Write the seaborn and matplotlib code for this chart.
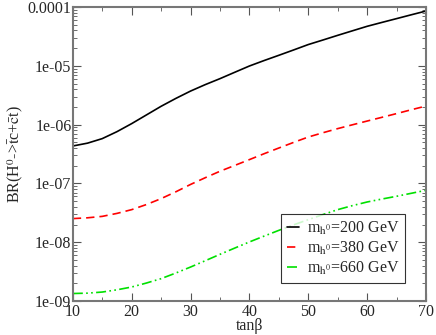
import numpy as np
import pandas as pd
import seaborn as sns
import matplotlib
matplotlib.use("Agg")
import matplotlib.pyplot as plt
from matplotlib.ticker import FixedLocator, LogLocator, NullFormatter, FuncFormatter

# tan(beta) grid and branching ratios
tanb = [10, 12.5, 15, 17.5, 20, 22.5, 25, 27.5, 30, 32.5, 35, 37.5, 40,
        42.5, 45, 47.5, 50, 52.5, 55, 57.5, 60, 62.5, 65, 67.5, 70]
br_200 = [4.33e-7, 4.84e-7, 5.78e-7, 7.59e-7, 1.04e-6, 1.46e-6, 2.05e-6,
          2.79e-6, 3.72e-6, 4.79e-6, 6.05e-6, 7.76e-6, 9.93e-6, 1.23e-5,
          1.51e-5, 1.86e-5, 2.30e-5, 2.75e-5, 3.30e-5, 3.94e-5, 4.70e-5,
          5.47e-5, 6.35e-5, 7.38e-5, 8.55e-5]
br_380 = [2.52e-8, 2.60e-8, 2.75e-8, 3.09e-8, 3.58e-8, 4.37e-8, 5.51e-8,
          7.20e-8, 9.60e-8, 1.25e-7, 1.61e-7, 2.02e-7, 2.54e-7, 3.20e-7,
          4.00e-7, 4.98e-7, 6.15e-7, 7.28e-7, 8.55e-7, 9.93e-7, 1.15e-6,
          1.33e-6, 1.54e-6, 1.79e-6, 2.07e-6]
br_660 = [1.34e-9, 1.36e-9, 1.42e-9, 1.55e-9, 1.73e-9, 2.02e-9, 2.40e-9,
          2.99e-9, 3.78e-9, 4.84e-9, 6.22e-9, 7.94e-9, 1.01e-8, 1.27e-8,
          1.59e-8, 1.97e-8, 2.42e-8, 2.95e-8, 3.58e-8, 4.19e-8, 4.83e-8,
          5.42e-8, 6.04e-8, 6.79e-8, 7.64e-8]
labels = [r"m$_{\mathrm{h}^{0}}$=200 GeV",
          r"m$_{\mathrm{h}^{0}}$=380 GeV",
          r"m$_{\mathrm{h}^{0}}$=660 GeV"]
colors = ["black", "#ff0000", "#00e000"]
styles = ["-", (0, (5, 3)), (0, (6, 2, 1, 2, 1, 2))]

sns.set_style("ticks")
plt.rcParams["font.family"] = ["Liberation Serif", "DejaVu Serif"]
plt.rcParams["mathtext.fontset"] = "stix"

fig = plt.figure(figsize=(4.36, 3.35), dpi=100)
ax = fig.add_axes([0.167, 0.1015, 0.81, 0.8775])

for y, lab, c, ls in zip([br_200, br_380, br_660], labels, colors, styles):
    df = pd.DataFrame({"tanb": tanb, "br": y})
    sns.lineplot(data=df, x="tanb", y="br", ax=ax, color=c, linestyle=ls,
                 linewidth=1.2, label=lab)

ax.set_yscale("log")
ax.set_xlim(10, 70)
ax.set_ylim(1e-9, 1e-4)
ax.xaxis.set_major_locator(FixedLocator([10, 20, 30, 40, 50, 60, 70]))
ax.xaxis.set_minor_locator(FixedLocator([15, 25, 35, 45, 55, 65]))
ax.yaxis.set_major_locator(LogLocator(base=10, numticks=10))
ax.yaxis.set_minor_locator(LogLocator(base=10, subs=np.arange(2, 10), numticks=20))
ax.yaxis.set_minor_formatter(NullFormatter())
ylabs = {-9: "1e-09", -8: "1e-08", -7: "1e-07", -6: "1e-06", -5: "1e-05", -4: "0.0001"}
ax.yaxis.set_major_formatter(FuncFormatter(lambda v, p: ylabs.get(int(round(np.log10(v))), "")))

ax.tick_params(which="both", direction="in", top=True, right=True,
               labelsize=11.5, color="#555555")
ax.tick_params(axis="y", pad=1)
ax.tick_params(axis="x", pad=2)
ax.tick_params(which="major", length=6)
ax.tick_params(which="minor", length=3)
for s in ax.spines.values():
    s.set_color("#777777")
    s.set_linewidth(1.5)

ax.set_xlabel("tanβ", fontsize=11.5, labelpad=-1)
ax.set_ylabel(r"BR(H$^{0}$->$\bar{\mathrm{t}}$c+$\bar{\mathrm{c}}$t)", fontsize=11.5, labelpad=2)

leg = ax.legend(loc="lower right", bbox_to_anchor=(0.942, 0.062), fontsize=11.5,
                frameon=True, fancybox=False, handlelength=0.8, handletextpad=0.5,
                borderpad=0.35, labelspacing=0.2, borderaxespad=0)
leg.get_frame().set_edgecolor("black")
leg.get_frame().set_linewidth(0.8)

fig.savefig("out.png", dpi=100)
